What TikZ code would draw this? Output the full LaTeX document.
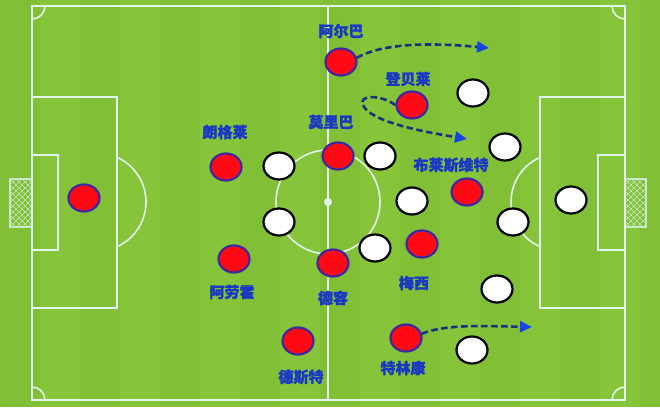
\documentclass[tikz,border=0pt]{standalone}
\usepackage{fontspec}
\newfontfamily\cjk{Noto Sans CJK SC Bold}[FakeBold=1.6]
\usetikzlibrary{shapes.geometric,arrows.meta}
\definecolor{grass}{RGB}{134,196,58}
\definecolor{grassb}{RGB}{126,190,52}
\definecolor{pline}{RGB}{228,244,238}
\definecolor{netl}{RGB}{200,232,200}
\definecolor{redp}{RGB}{255,10,20}
\definecolor{redb}{RGB}{62,40,160}
\definecolor{lab}{RGB}{26,56,196}
\definecolor{dashc}{RGB}{26,52,124}
\definecolor{tipc}{RGB}{20,70,230}
\begin{document}
\begin{tikzpicture}[x=1pt,y=-1pt,
  fl/.style={draw=pline,line width=1.6pt},
  rp/.style={ellipse,draw=redb,fill=redp,line width=2.2pt,minimum width=31pt,minimum height=27pt,inner sep=0pt},
  wp/.style={ellipse,draw=black,fill=white,line width=2.2pt,minimum width=31pt,minimum height=27pt,inner sep=0pt},
  lb/.style={text=lab,font=\cjk\bfseries\fontsize{15}{15}\selectfont,inner sep=0pt},
  run/.style={draw=dashc,line width=2.6pt,dash pattern=on 6.5pt off 3.5pt,-{Triangle[length=12pt,width=11pt,color=tipc,fill=tipc]}}
]
% background
\fill[grass] (0,0) rectangle (660,407);
\useasboundingbox (0,0) rectangle (660,407);
\begin{scope}
  \clip (0,0) rectangle (660,407);
  \foreach \s in {0,80,...,640}{\fill[grassb,opacity=0.5] (\s,0) rectangle (\s+40,407);}
\end{scope}
% nets
\foreach \a/\b in {10/32,625/646}{
  \begin{scope}
    \clip (\a,179) rectangle (\b,227);
    \foreach \k in {-60,-54,...,60}{
      \draw[netl,line width=0.5pt] (\a+\k,179) -- (\a+\k+48,227);
      \draw[netl,line width=0.5pt] (\a+\k,227) -- (\a+\k+48,179);
    }
  \end{scope}
  \draw[netl,line width=2.2pt] (\a,179) rectangle (\b,227);
}
% pitch lines
\draw[fl] (32,6) rectangle (625,400);
\draw[fl] (328,6) -- (328,400);
\draw[fl] (328,202) circle[radius=52];
\fill[pline] (328,202) circle[radius=4];
\draw[fl] (32,97) rectangle (117,308);
\draw[fl] (32,155) rectangle (58,250);
\draw[fl] (540,97) rectangle (625,308);
\draw[fl] (598,155) rectangle (625,250);
\begin{scope}
  \clip (117,0) rectangle (540,407);
  \draw[fl] (97,202) circle[radius=49];
  \draw[fl] (560,202) circle[radius=49];
\end{scope}
\begin{scope}
  \clip (32,6) rectangle (625,400);
  \draw[fl] (32,6) circle[radius=13];
  \draw[fl] (625,6) circle[radius=13];
  \draw[fl] (32,400) circle[radius=13];
  \draw[fl] (625,400) circle[radius=13];
\end{scope}
% red team
\node[rp] (gk) at (84,198) {};
\node[rp] (alba) at (341,62) {};
\node[rp] (dembele) at (412,105) {};
\node[rp] (moriba) at (338,156) {};
\node[rp] (lenglet) at (226,167) {};
\node[rp] (braith) at (467,192) {};
\node[rp] (messi) at (422,244) {};
\node[rp] (dejong) at (333,263) {};
\node[rp] (araujo) at (234,259) {};
\node[rp] (dest) at (298,341) {};
\node[rp] (trincao) at (406,338) {};
% labels
\node[lb] (lalba) at (341,31) {阿尔巴};
\node[lb] (ldembele) at (408,79) {登贝莱};
\node[lb] (lmoriba) at (331,122) {莫里巴};
\node[lb] (llenglet) at (225,132) {朗格莱};
\node[lb] (lbraith) at (451,165) {布莱斯维特};
\node[lb] (lmessi) at (414,283) {梅西};
\node[lb] (ldejong) at (333,298) {德容};
\node[lb] (laraujo) at (232,292) {阿劳霍};
\node[lb] (ldest) at (301,377) {德斯特};
\node[lb] (ltrincao) at (403,368) {特林康};
% white team
\node[wp] (w1) at (473,93) {};
\node[wp] (w2) at (505,147) {};
\node[wp] (w3) at (279,166) {};
\node[wp] (w4) at (380,156) {};
\node[wp] (w5) at (279,222) {};
\node[wp] (w6) at (375,248) {};
\node[wp] (w7) at (412,201) {};
\node[wp] (w8) at (513,222) {};
\node[wp] (w9) at (571,200) {};
\node[wp] (w10) at (497,289) {};
\node[wp] (w11) at (472,350) {};
% runs
\coordinate (ea) at (489,48);
\coordinate (ed) at (467,139);
\coordinate (et) at (532,327);
\draw[run] (alba.15) .. controls (385,42) and (435,43) .. (ea);
\draw[run] (dembele.west) .. controls (380,94) and (358,95) .. (363,105) .. controls (370,122) and (425,132) .. (ed);
\draw[run] (trincao.15) .. controls (445,324) and (485,326) .. (et);
\end{tikzpicture}
\end{document}
